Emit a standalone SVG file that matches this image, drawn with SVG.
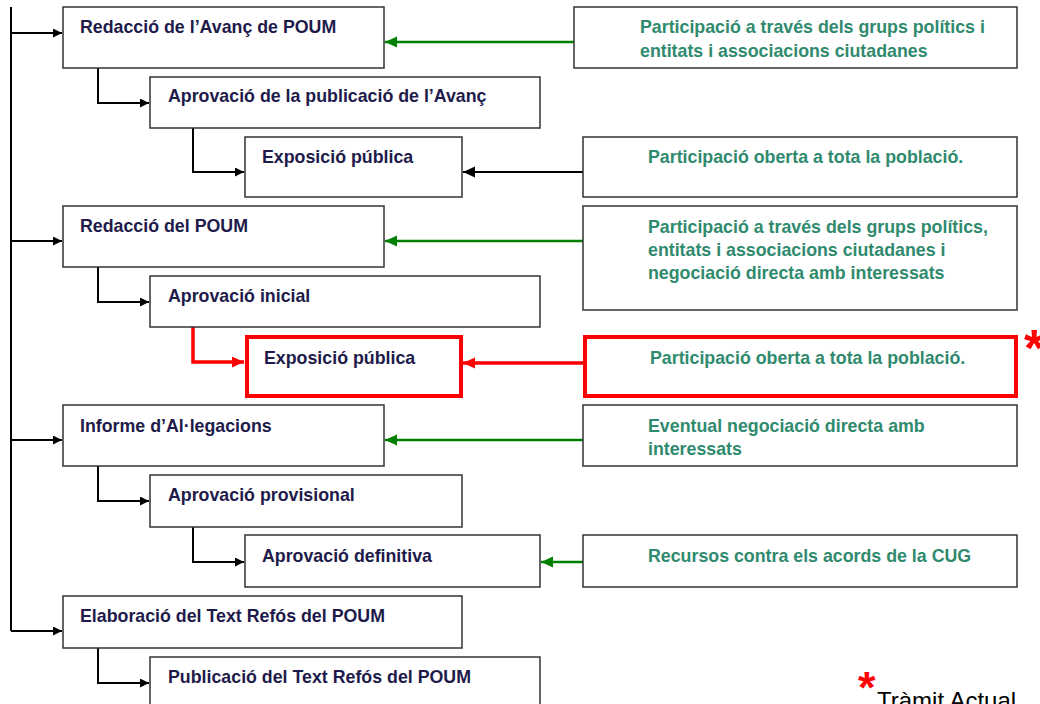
<svg xmlns="http://www.w3.org/2000/svg" width="1040" height="704" viewBox="0 0 1040 704">
<style>
.box{fill:#fff;stroke:#333;stroke-width:1.5}
.hl{fill:#fff;stroke:#ff0000;stroke-width:4}
.t{font-family:"Liberation Sans",Arial,sans-serif;font-weight:bold;font-size:17.8px;fill:#1e1b4b}
.g{font-family:"Liberation Sans",Arial,sans-serif;font-weight:bold;font-size:17.8px;fill:#2f8a6e}
.k{fill:none;stroke:#000;stroke-width:2}
.gr{fill:none;stroke:#008000;stroke-width:2.5}
.rd{fill:none;stroke:#ff0000;stroke-width:3.5}
.star{font-family:"Liberation Sans",Arial,sans-serif;font-weight:bold;fill:#ff0000}
</style>
<defs>
<marker id="ak" markerUnits="userSpaceOnUse" markerWidth="10" markerHeight="10" refX="9" refY="4.5" orient="auto"><path d="M0,0 L9,4.5 L0,9 z" fill="#000"/></marker>
<marker id="akl" markerUnits="userSpaceOnUse" markerWidth="13" markerHeight="12" refX="12" refY="5.5" orient="auto"><path d="M0,0 L12,5.5 L0,11 z" fill="#000"/></marker>
<marker id="ag" markerUnits="userSpaceOnUse" markerWidth="13" markerHeight="12" refX="12" refY="5.5" orient="auto"><path d="M0,0 L12,5.5 L0,11 z" fill="#008000"/></marker>
<marker id="ar" markerUnits="userSpaceOnUse" markerWidth="13" markerHeight="12" refX="12" refY="5.5" orient="auto"><path d="M0,0 L12,5.5 L0,11 z" fill="#ff0000"/></marker>
</defs>
<rect width="1040" height="704" fill="#fff"/>

<g id="connectors">
<path class="k" d="M11,7 V631"/>
<path class="k" d="M11,33 H62" marker-end="url(#ak)"/>
<path class="k" d="M11,241 H62" marker-end="url(#ak)"/>
<path class="k" d="M11,440 H62" marker-end="url(#ak)"/>
<path class="k" d="M11,631 H62" marker-end="url(#ak)"/>
<path class="k" d="M98,68 V103 H149" marker-end="url(#ak)"/>
<path class="k" d="M193,128 V172 H244" marker-end="url(#ak)"/>
<path class="k" d="M98,267 V302 H149" marker-end="url(#ak)"/>
<path class="rd" d="M193,327 V362 H244" marker-end="url(#ar)"/>
<path class="k" d="M98,466 V501 H149" marker-end="url(#ak)"/>
<path class="k" d="M193,527 V562 H244" marker-end="url(#ak)"/>
<path class="k" d="M98,648 V683 H149" marker-end="url(#ak)"/>
<path class="gr" d="M574,42 H385" marker-end="url(#ag)"/>
<path class="k" d="M583,172 H463" marker-end="url(#akl)"/>
<path class="gr" d="M583,241 H385" marker-end="url(#ag)"/>
<path class="rd" d="M583,363 H463" marker-end="url(#ar)"/>
<path class="gr" d="M583,440 H385" marker-end="url(#ag)"/>
<path class="gr" d="M583,562 H541" marker-end="url(#ag)"/>
</g>

<g id="n1"><rect class="box" x="63" y="7" width="321" height="61"/><text class="t" x="80" y="33">Redacció de l’Avanç de POUM</text></g>
<g id="n2"><rect class="box" x="150" y="77" width="390" height="51"/><text class="t" x="168" y="102">Aprovació de la publicació de l’Avanç</text></g>
<g id="n3"><rect class="box" x="245" y="137" width="217" height="60"/><text class="t" x="262" y="163">Exposició pública</text></g>
<g id="n4"><rect class="box" x="63" y="206" width="321" height="61"/><text class="t" x="80" y="232">Redacció del POUM</text></g>
<g id="n5"><rect class="box" x="150" y="276" width="390" height="51"/><text class="t" x="168" y="302">Aprovació inicial</text></g>
<g id="n6"><rect class="hl" x="247" y="337" width="214" height="59"/><text class="t" x="264" y="364">Exposició pública</text></g>
<g id="n7"><rect class="box" x="63" y="405" width="321" height="61"/><text class="t" x="80" y="432">Informe d’Al·legacions</text></g>
<g id="n8"><rect class="box" x="150" y="475" width="312" height="52"/><text class="t" x="168" y="501">Aprovació provisional</text></g>
<g id="n9"><rect class="box" x="245" y="535" width="295" height="52"/><text class="t" x="262" y="562">Aprovació definitiva</text></g>
<g id="n10"><rect class="box" x="63" y="596" width="399" height="52"/><text class="t" x="80" y="622">Elaboració del Text Refós del POUM</text></g>
<g id="n11"><rect class="box" x="150" y="657" width="390" height="60"/><text class="t" x="168" y="683">Publicació del Text Refós del POUM</text></g>

<g id="p1"><rect class="box" x="574" y="7" width="443" height="61"/><text class="g" x="640" y="33">Participació a través dels grups polítics i</text><text class="g" x="640" y="57">entitats i associacions ciutadanes</text></g>
<g id="p2"><rect class="box" x="583" y="137" width="434" height="60"/><text class="g" x="648" y="163">Participació oberta a tota la població.</text></g>
<g id="p3"><rect class="box" x="583" y="206" width="434" height="104"/><text class="g" x="648" y="233">Participació a través dels grups polítics,</text><text class="g" x="648" y="256">entitats i associacions ciutadanes i</text><text class="g" x="648" y="279">negociació directa amb interessats</text></g>
<g id="p4"><rect class="hl" x="585" y="337" width="431" height="59"/><text class="g" x="650" y="364">Participació oberta a tota la població.</text></g>
<g id="p5"><rect class="box" x="583" y="405" width="434" height="61"/><text class="g" x="648" y="432">Eventual negociació directa amb</text><text class="g" x="648" y="455">interessats</text></g>
<g id="p6"><rect class="box" x="583" y="535" width="434" height="52"/><text class="g" x="648" y="562">Recursos contra els acords de la CUG</text></g>

<g id="legend">
<text class="star" x="1024" y="366" font-size="52">*</text>
<text class="star" x="858" y="703" font-size="45">*</text>
<text x="877" y="709" font-family="Liberation Sans,Arial,sans-serif" font-size="24" fill="#000">Tràmit Actual</text>
</g>
</svg>
